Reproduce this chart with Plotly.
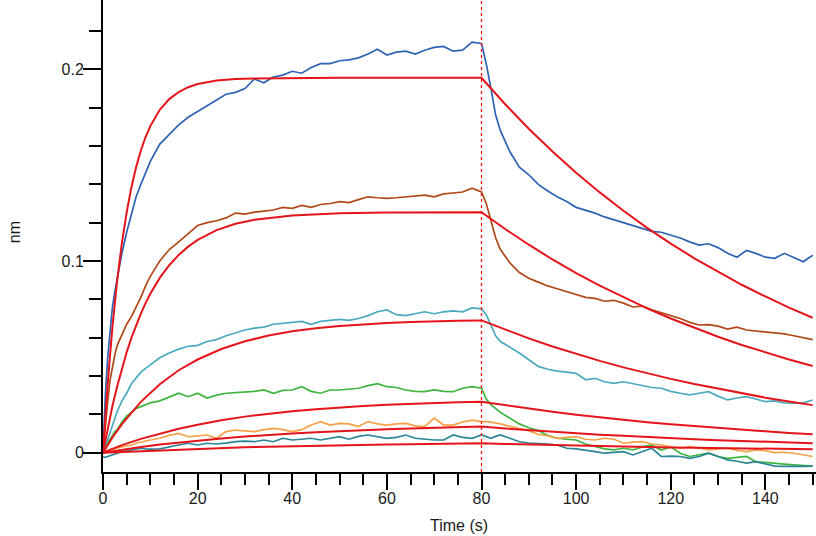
import plotly.graph_objects as go

# ---------------- data ----------------
t = [0, 0.5, 1, 1.5, 2, 2.5, 3,
     4, 5, 6, 7, 8, 9, 10,
     12, 14, 16, 18, 20, 22, 24, 26, 28, 30, 32, 34, 36, 38, 40, 42, 44, 46, 48, 50,
     52, 54, 56, 58, 60, 62, 64, 66, 68, 70, 72, 74, 76, 78, 80,
     81, 82, 83, 84,
     86, 88, 90, 92, 94, 96, 98, 100, 102, 104, 106, 108, 110, 112, 114, 116, 118, 120,
     122, 124, 126, 128, 130, 132, 134, 136, 138, 140, 142, 144, 146, 148, 150]

blue = [0.0, 0.03, 0.05, 0.065, 0.076, 0.084, 0.091,
        0.104, 0.115, 0.124, 0.1335, 0.140, 0.146, 0.152,
        0.161, 0.166, 0.171, 0.175, 0.178, 0.181, 0.184, 0.187, 0.188, 0.190,
        0.195, 0.193, 0.196, 0.197, 0.199, 0.198, 0.201, 0.203, 0.203, 0.2045,
        0.205, 0.206, 0.208, 0.2105, 0.2075, 0.209, 0.2095, 0.208, 0.210, 0.2115,
        0.212, 0.2095, 0.210, 0.2142, 0.2135,
        0.203, 0.190, 0.176, 0.168,
        0.157, 0.149, 0.145, 0.140, 0.1365, 0.1335, 0.131, 0.128, 0.1265, 0.125,
        0.123, 0.1215, 0.120, 0.1185, 0.117, 0.1155, 0.115, 0.1135, 0.112, 0.110,
        0.1083, 0.109, 0.107, 0.104, 0.102, 0.1055, 0.104, 0.102, 0.1014, 0.104,
        0.102, 0.0996, 0.103]

brown = [0.0, 0.015, 0.027, 0.038, 0.045, 0.051, 0.056,
         0.062, 0.067, 0.071, 0.076, 0.081, 0.087, 0.092,
         0.100, 0.106, 0.110, 0.114, 0.1185, 0.120, 0.121, 0.1225, 0.125, 0.1245,
         0.1255, 0.126, 0.1266, 0.128, 0.1275, 0.129, 0.128, 0.1295, 0.130, 0.131,
         0.1305, 0.132, 0.1335, 0.133, 0.1327, 0.133, 0.1335, 0.134, 0.1344, 0.1335,
         0.135, 0.1355, 0.136, 0.138, 0.136,
         0.130, 0.121, 0.112, 0.106,
         0.099, 0.094, 0.091, 0.089, 0.087, 0.0855, 0.084, 0.0825, 0.081, 0.0805,
         0.079, 0.0795, 0.078, 0.076, 0.0765, 0.0745, 0.073, 0.0715, 0.070, 0.068,
         0.0666, 0.0668, 0.066, 0.0645, 0.0655, 0.064, 0.0635, 0.063, 0.0625, 0.062,
         0.061, 0.060, 0.059]

cyan = [0.0, 0.003, 0.007, 0.0105, 0.014, 0.018, 0.0215,
        0.027, 0.031, 0.036, 0.039, 0.042, 0.044, 0.046,
        0.0495, 0.052, 0.054, 0.0555, 0.056, 0.058, 0.059, 0.061, 0.0625, 0.064,
        0.065, 0.0655, 0.067, 0.0675, 0.068, 0.0685, 0.067, 0.0685, 0.069, 0.0695,
        0.069, 0.070, 0.0715, 0.0735, 0.0745, 0.072, 0.0715, 0.0725, 0.0735, 0.0725,
        0.0735, 0.074, 0.0735, 0.0755, 0.075,
        0.072, 0.066, 0.061, 0.058,
        0.055, 0.052, 0.0485, 0.045, 0.0435, 0.0425, 0.042, 0.0414, 0.038, 0.0388,
        0.037, 0.0362, 0.037, 0.036, 0.0353, 0.034, 0.0336, 0.032, 0.031, 0.0301,
        0.031, 0.0318, 0.0295, 0.0275, 0.0285, 0.0292, 0.028, 0.0266, 0.027, 0.026,
        0.0258, 0.026, 0.0275]

green = [0.0, 0.003, 0.005, 0.007, 0.009, 0.011, 0.012,
         0.016, 0.019, 0.021, 0.023, 0.024, 0.025, 0.026,
         0.027, 0.029, 0.031, 0.0292, 0.031, 0.0285, 0.030, 0.031, 0.0313, 0.0315,
         0.032, 0.0327, 0.031, 0.0325, 0.0327, 0.0344, 0.032, 0.031, 0.0327, 0.0327,
         0.033, 0.0336, 0.035, 0.036, 0.0344, 0.034, 0.0327, 0.032, 0.0318, 0.0327,
         0.032, 0.0318, 0.0336, 0.0344, 0.0336,
         0.028, 0.025, 0.023, 0.021,
         0.018, 0.015, 0.013, 0.0115, 0.009, 0.0075, 0.007, 0.0066, 0.0045, 0.0031,
         0.002, 0.0014, 0.0023, 0.0014, 0.003, 0.004, 0.0014, 0.003, -0.0003, -0.002,
         -0.001, -0.0003, -0.002, -0.003, -0.0025, -0.002, -0.0047, -0.005, -0.0055, -0.006,
         -0.0064, -0.0068, -0.007]

orange = [0.0, 0.0005, 0.001, 0.0015, 0.002, 0.002, 0.0025,
          0.003, 0.0035, 0.004, 0.0049, 0.0055, 0.006, 0.0066,
          0.0075, 0.009, 0.010, 0.0083, 0.0088, 0.0092, 0.0075, 0.011, 0.0118, 0.0115,
          0.011, 0.012, 0.0127, 0.012, 0.011, 0.012, 0.0144, 0.0162, 0.0144, 0.0153,
          0.015, 0.0136, 0.0162, 0.015, 0.0144, 0.015, 0.0153, 0.014, 0.0136, 0.018,
          0.0144, 0.0144, 0.016, 0.017, 0.0162,
          0.0162, 0.016, 0.0155, 0.015,
          0.0136, 0.0125, 0.0115, 0.0095, 0.0088, 0.0075, 0.008, 0.0083, 0.007, 0.0066,
          0.0075, 0.007, 0.0049, 0.0055, 0.0057, 0.0045, 0.004, 0.003, 0.0023, 0.0031,
          0.0025, 0.0014, 0.002, 0.0023, 0.0012, 0.0005, 0.0014, 0.001, 0.0, 0.0002,
          -0.0003, -0.001, -0.002]

teal = [-0.002, -0.0025, -0.002, -0.0015, -0.001, -0.0005, -0.0003,
        0.0005, 0.001, 0.0014, 0.002, 0.0023, 0.002, 0.0018,
        0.002, 0.0031, 0.004, 0.0049, 0.004, 0.0049, 0.0045, 0.005, 0.0057, 0.006,
        0.0057, 0.0066, 0.0057, 0.0075, 0.0066, 0.007, 0.0075, 0.0066, 0.0075, 0.0083,
        0.007, 0.0085, 0.0092, 0.0083, 0.0075, 0.008, 0.0092, 0.0075, 0.007, 0.0066,
        0.0066, 0.0092, 0.008, 0.0075, 0.0092,
        0.0085, 0.0075, 0.0085, 0.0092,
        0.0075, 0.0057, 0.005, 0.0049, 0.0045, 0.004, 0.0023, 0.002, 0.0014, 0.0005,
        -0.0003, 0.0002, 0.0005, -0.0012, 0.0005, 0.0023, -0.002, -0.0018, -0.002, -0.003,
        -0.002, -0.0003, -0.002, -0.0038, -0.0045, -0.0055, -0.0047, -0.006, -0.007, -0.0072,
        -0.0073, -0.0072, -0.007]

# fitted curves (red)
fit_t_a = [0, 1, 2, 3, 4, 5, 6, 7, 8, 9, 10, 12, 14, 16, 18, 20, 24, 28, 32, 40, 50, 60, 70, 80]
fit_t_b = [0, 2, 4, 8, 12, 16, 20, 25, 30, 35, 40, 45, 50, 55, 60, 65, 70, 75, 80]
fit_t_d = [80, 85, 90, 95, 100, 105, 110, 115, 120, 125, 130, 135, 140, 145, 150]

fit1_a = [0, 0.0363, 0.0658, 0.0899, 0.1095, 0.1254, 0.1384, 0.1490, 0.1577, 0.1647, 0.1704,
          0.1789, 0.1845, 0.1882, 0.1907, 0.1924, 0.1942, 0.1950, 0.1953, 0.1956, 0.1956,
          0.1956, 0.1956, 0.1956]
fit2_a = [0, 0.0129, 0.0244, 0.0347, 0.0440, 0.0524, 0.0599, 0.0666, 0.0726, 0.0780, 0.0829,
          0.0912, 0.0978, 0.1032, 0.1075, 0.1110, 0.1161, 0.1194, 0.1215, 0.1238, 0.1249,
          0.1253, 0.1254, 0.1255]
fit3_a = [0, 0.0079, 0.0149, 0.0265, 0.0357, 0.0430, 0.0486, 0.0541, 0.0581, 0.0611, 0.0633,
          0.0649, 0.0661, 0.0670, 0.0677, 0.0682, 0.0686, 0.0688, 0.0690]
fit4_a = [0, 0.0020, 0.0039, 0.0072, 0.0100, 0.0125, 0.0146, 0.0169, 0.0188, 0.0203, 0.0216,
          0.0227, 0.0236, 0.0243, 0.0250, 0.0255, 0.0259, 0.0263, 0.0266]
fit5_a = [0, 0.0008, 0.0015, 0.0029, 0.0042, 0.0053, 0.0063, 0.0074, 0.0084, 0.0093, 0.0100,
          0.0107, 0.0113, 0.0118, 0.0122, 0.0126, 0.0130, 0.0133, 0.0136]
fit6_a = [0, 0.0002, 0.0005, 0.0009, 0.0013, 0.0017, 0.0020, 0.0024, 0.0028, 0.0031, 0.0034,
          0.0036, 0.0039, 0.0041, 0.0043, 0.0044, 0.0046, 0.0047, 0.0049]

fit1_d = [0.1956, 0.1818, 0.1690, 0.1571, 0.1461, 0.1358, 0.1262, 0.1173, 0.1091, 0.1014,
          0.0943, 0.0876, 0.0815, 0.0757, 0.0704]
fit2_d = [0.1255, 0.1167, 0.1085, 0.1008, 0.0937, 0.0871, 0.0810, 0.0753, 0.0700, 0.0651,
          0.0605, 0.0562, 0.0523, 0.0486, 0.0452]
fit3_d = [0.0690, 0.0641, 0.0596, 0.0554, 0.0515, 0.0479, 0.0445, 0.0414, 0.0385, 0.0358,
          0.0333, 0.0309, 0.0287, 0.0267, 0.0248]
fit4_d = [0.0266, 0.0247, 0.0229, 0.0213, 0.0198, 0.0184, 0.0171, 0.0159, 0.0148, 0.0138,
          0.0128, 0.0119, 0.0111, 0.0103, 0.0096]
fit5_d = [0.0136, 0.0126, 0.0117, 0.0109, 0.0101, 0.0094, 0.0088, 0.0081, 0.0076, 0.0070,
          0.0065, 0.0061, 0.0057, 0.0053, 0.0049]
fit6_d = [0.0049, 0.0045, 0.0042, 0.0039, 0.0036, 0.0034, 0.0031, 0.0029, 0.0027, 0.0025,
          0.0024, 0.0022, 0.0020, 0.0019, 0.0018]

switch_time = 80
x_ticks = [0, 20, 40, 60, 80, 100, 120, 140]
y_ticks = [0, 0.1, 0.2]
y_tick_text = ["0", "0.1", "0.2"]

# ---------------- figure ----------------
FONT = "Liberation Sans, Arial, sans-serif"
TXT = "#1a1a1a"
fig = go.Figure()

series = [
    (blue, "#2e63b4"),
    (brown, "#b0481a"),
    (cyan, "#4aa9bf"),
    (green, "#3db43f"),
    (orange, "#f4a147"),
    (teal, "#2a8594"),
]
for ys, col in series:
    fig.add_trace(go.Scatter(x=t, y=ys, mode="lines",
                             line=dict(color=col, width=1.7), hoverinfo="skip"))

fits = [
    (fit_t_a, fit1_a, fit1_d),
    (fit_t_a, fit2_a, fit2_d),
    (fit_t_b, fit3_a, fit3_d),
    (fit_t_b, fit4_a, fit4_d),
    (fit_t_b, fit5_a, fit5_d),
    (fit_t_b, fit6_a, fit6_d),
]
for ta, ya, yd in fits:
    fig.add_trace(go.Scatter(x=list(ta) + fit_t_d[1:], y=list(ya) + yd[1:], mode="lines",
                             line=dict(color="#e5141b", width=2), hoverinfo="skip"))

fig.add_shape(type="line", xref="x", yref="paper", x0=switch_time, x1=switch_time,
              y0=0, y1=1, line=dict(color="#ff1010", width=1.3, dash="dot"), layer="above")

fig.update_layout(
    width=816, height=536,
    margin=dict(l=103, r=0, t=0, b=64),
    paper_bgcolor="white", plot_bgcolor="white",
    showlegend=False, hovermode=False,
    font=dict(family=FONT, size=16, color=TXT),
    xaxis=dict(range=[0, 150.7], showgrid=False, zeroline=False,
               showline=True, linecolor="black", linewidth=2,
               ticks="outside", ticklen=16, tickwidth=2, tickcolor="black",
               tickvals=x_ticks, ticktext=[str(v) for v in x_ticks],
               ticklabelstandoff=-5,
               tickfont=dict(family=FONT, size=16, color=TXT),
               minor=dict(ticks="outside", ticklen=11, tickwidth=2, tickcolor="black",
                          dtick=5, tick0=0, showgrid=False)),
    yaxis=dict(range=[-0.0101, 0.2362], showgrid=False, zeroline=False,
               showline=True, linecolor="black", linewidth=2,
               ticks="outside", ticklen=18, tickwidth=2, tickcolor="black",
               tickvals=y_ticks, ticktext=y_tick_text,
               ticklabelstandoff=-4,
               tickfont=dict(family=FONT, size=16, color=TXT),
               minor=dict(ticks="outside", ticklen=12, tickwidth=2, tickcolor="black",
                          dtick=0.02, tick0=0, showgrid=False)),
    annotations=[
        dict(text="Time (s)", xref="paper", yref="paper", x=0.4993, y=-0.1123,
             xanchor="center", yanchor="middle", showarrow=False,
             font=dict(family=FONT, size=16, color=TXT)),
        dict(text="nm", xref="paper", yref="paper", x=-0.1248, y=0.508,
             xanchor="center", yanchor="middle", showarrow=False, textangle=-90,
             font=dict(family=FONT, size=16, color=TXT)),
    ],
)

fig.write_html("out.html")
